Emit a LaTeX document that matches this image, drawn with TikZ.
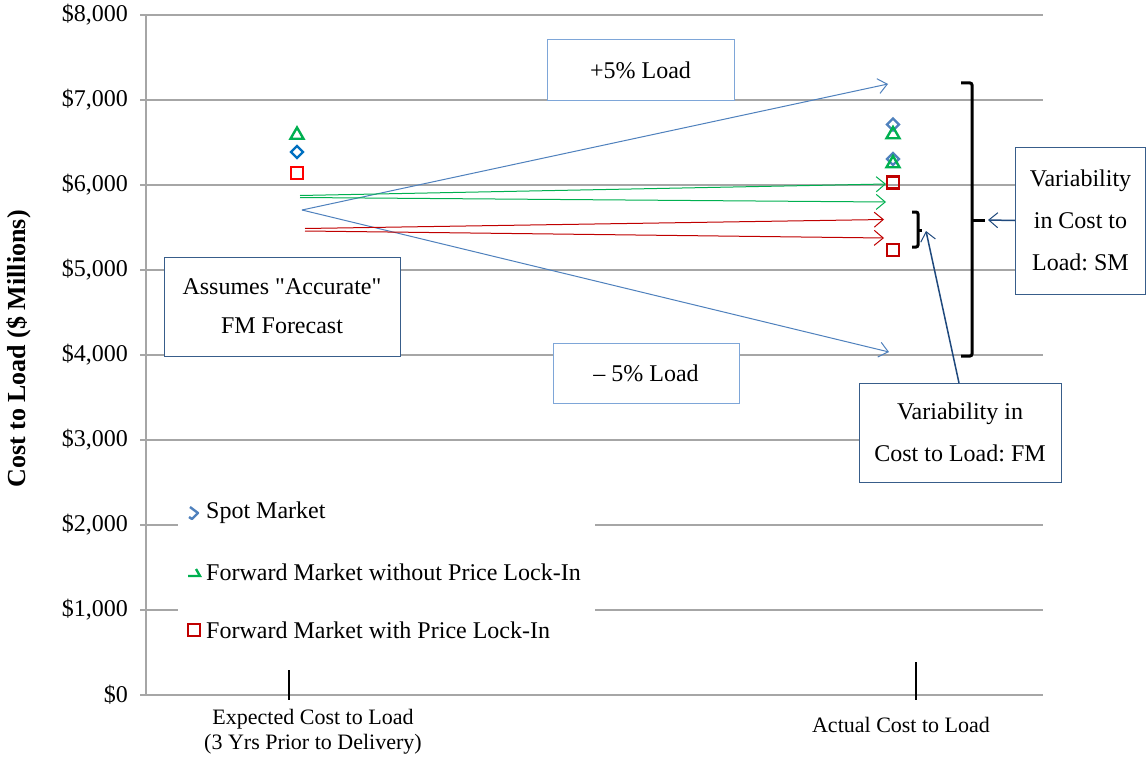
\documentclass[tikz,border=0pt]{standalone}
\usepackage{fontspec}
\setmainfont{Liberation Serif}
\usetikzlibrary{arrows.meta,shapes.geometric}
\definecolor{gridgray}{HTML}{A6A6A6}
\definecolor{mblue}{HTML}{0070C0}
\definecolor{lblue}{HTML}{4F81BD}
\definecolor{mgreen}{HTML}{00B050}
\definecolor{mred}{HTML}{FF0000}
\definecolor{dred}{HTML}{C00000}
\definecolor{boxlight}{HTML}{7EA6D8}
\definecolor{boxdark}{HTML}{385D8A}
\definecolor{calloutblue}{HTML}{1F497D}
\frenchspacing
\tikzset{
  grid line/.style={gridgray, line width=1.3pt},
  txt/.style={font=\fontsize{24}{28}\selectfont, inner sep=0pt},
  tbox/.style={draw, line width=1pt, fill=white, font=\fontsize{24}{42}\selectfont, align=center, inner sep=0pt},
  lightbox/.style={tbox, draw=boxlight},
  darkbox/.style={tbox, draw=boxdark},
  dmark/.style={diamond, draw, line width=2.4pt, minimum size=13pt, inner sep=0pt},
  tmark/.style={regular polygon, regular polygon sides=3, draw, line width=2.4pt, minimum size=15pt, inner sep=0pt},
  smark/.style={rectangle, draw, line width=2.4pt, minimum size=12pt, inner sep=0pt},
  barb/.style={-{Straight Barb[length=9pt,width=15pt,line width=1pt]}, line width=1pt},
  bracket/.style={line width=3pt, black, rounded corners=2pt},
}
\begin{document}
\begin{tikzpicture}[x=1pt,y=-1pt]
\useasboundingbox (0,0) rectangle (1146,760);
\fill[white] (0,0) rectangle (1146,760);
% gridlines and y labels
\foreach \v/\y in {8/15,7/100,6/185,5/270,4/355,3/440,2/525,1/610}{
  \draw[grid line] (140,\y) -- (1043,\y);
  \node[txt, anchor=east] (yl\v) at (128,\y) {\$\v,000};
}
\draw[grid line] (140,695) -- (1043,695);
\node[txt, anchor=east] (yl0) at (128,695) {\$0};
\draw[grid line] (146,15) -- (146,695);
% y title
\node[font=\fontsize{26}{30}\selectfont\bfseries, rotate=90, inner sep=0pt] (ytitle) at (19,349) {Cost to Load (\$ Millions)};
% category ticks and labels
\draw[black, line width=1.2pt] (289,670) -- (289,700);
\draw[black, line width=1.2pt] (916,662) -- (916,700);
\node[font=\fontsize{22}{25}\selectfont, align=center, inner sep=0pt] (xl1) at (313,732) {Expected Cost to Load\\(3 Yrs Prior to Delivery)};
\node[font=\fontsize{22}{25}\selectfont, inner sep=0pt] (xl2) at (901,725) {Actual Cost to Load};
% legend
\fill[white] (178,490) rectangle (595,650);
\draw[lblue, line width=2.4pt, line join=round] (190,507) -- (198,513) -- (192,519) -- (189,517);
\draw[mgreen, line width=2.4pt] (188,576) -- (200,576) -- (196,569);
\node[smark, draw=dred] (lsq) at (194,630) {};
\node[txt, anchor=west] (leg1) at (206,513) {Spot Market};
\node[txt, anchor=west] (leg2) at (206,572) {Forward Market without Price Lock-In};
\node[txt, anchor=west] (leg3) at (206,630) {Forward Market with Price Lock-In};
% markers left
\node[tmark, draw=mgreen] (lt) at (297,135) {};
\node[dmark, draw=mblue] (ld) at (297,152) {};
\node[smark, draw=mred] (ls) at (297,173) {};
% markers right
\node[dmark, draw=lblue] (rd1) at (893,124.5) {};
\node[tmark, draw=mgreen] (rt1) at (893,134.5) {};
\node[dmark, draw=lblue] (rd2) at (893,159) {};
\node[tmark, draw=mgreen] (rt2) at (893,163.5) {};
\node[smark, draw=dred] (rs1) at (893,182.5) {};
\node[smark, draw=dred] (rs2) at (893,250) {};
% arrow coordinates
\coordinate (bs) at (302,210);
\coordinate (bup) at (888,84);
\coordinate (bdn) at (889,352);
\coordinate (gs1) at (300,195.5);
\coordinate (gs2) at (300,197.5);
\coordinate (ge1) at (886,184);
\coordinate (ge2) at (886,202);
\coordinate (rs1s) at (305,228.5);
\coordinate (rs2s) at (305,231);
\coordinate (re1) at (884,219.5);
\coordinate (re2) at (884,238);
\draw[barb, lblue] (bs) -- (bup);
\draw[barb, lblue] (bs) -- (bdn);
\draw[barb, mgreen] (gs1) -- (ge1);
\draw[barb, mgreen] (gs2) -- (ge2);
\draw[barb, dred] (rs1s) -- (re1);
\draw[barb, dred] (rs2s) -- (re2);
% brackets
\draw[bracket] (961,83) -- (972,83) -- (972,356) -- (961,356);
\draw[bracket] (972,220) -- (985,220);
\coordinate (bignub) at (988,220);
\draw[bracket] (912,212) -- (918,212) -- (918,247) -- (912,247);
\draw[bracket] (918,230) -- (922,230);
\coordinate (smallnub) at (926,231);
% text boxes
\node[lightbox, minimum width=187pt, minimum height=60pt] (plus) at (640.5,70) {+5\% Load};
\node[lightbox, minimum width=186pt, minimum height=60pt] (minus) at (646,373) {\textendash\ 5\% Load};
\node[darkbox, minimum width=236pt, minimum height=99pt] (assume) at (282,306.5) {\raisebox{-3pt}{Assumes \textquotedbl Accurate\textquotedbl}\\FM Forecast};
\node[darkbox, minimum width=130pt, minimum height=147pt] (sm) at (1080.5,220.5) {Variability\\in Cost to\\Load: SM};
\node[darkbox, minimum width=202pt, minimum height=99pt] (fm) at (960,432.5) {Variability in\\Cost to Load: FM};
% callout arrows
\coordinate (fmtop) at (959,383);
\draw[barb, calloutblue, line width=1.5pt] (sm.west) -- (bignub);
\draw[barb, calloutblue, line width=1.5pt] (fmtop) -- (smallnub);
\end{tikzpicture}
\end{document}
